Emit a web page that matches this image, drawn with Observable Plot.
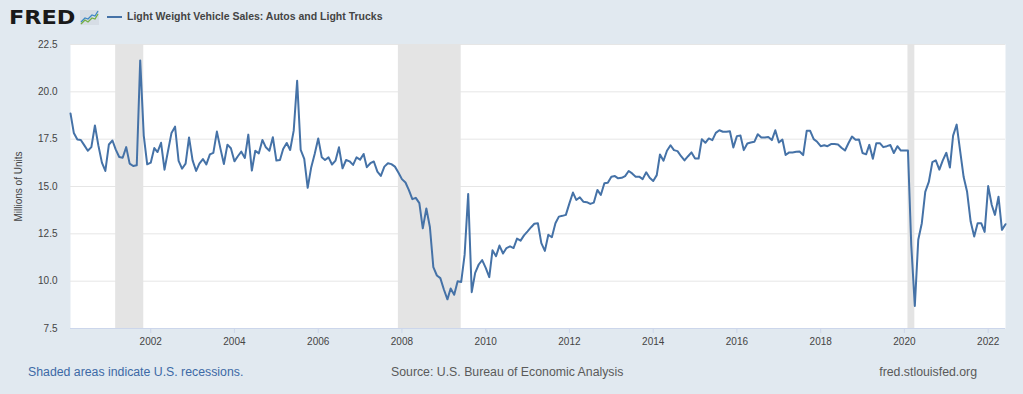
<!DOCTYPE html>
<html><head><meta charset="utf-8">
<script src="https://cdn.jsdelivr.net/npm/d3@7"></script>
<script src="https://cdn.jsdelivr.net/npm/@observablehq/plot@0.6"></script>
<style>
body{margin:0;background:#e1e9f0;font-family:"Liberation Sans",Arial,sans-serif;}
#wrap{position:relative;width:1023px;height:394px;overflow:hidden;background:#e1e9f0;}
#logo{position:absolute;left:9px;top:7px;font-family:"DejaVu Sans",sans-serif;font-size:20px;line-height:20px;font-weight:bold;color:#1a1a1a;letter-spacing:0px;transform:scaleX(1.12);transform-origin:0 0;}
#icon{position:absolute;left:80px;top:10px;}
#legline{position:absolute;left:107px;top:16px;width:15px;height:2px;background:#4572a7;}
#title{position:absolute;left:127px;top:11px;font-size:10.5px;line-height:11px;font-weight:bold;color:#444;white-space:nowrap;}
#chart{position:absolute;left:0;top:30px;}
.foot{position:absolute;top:366px;font-size:12.3px;line-height:12px;white-space:nowrap;}
#f1{left:28px;color:#3d6aa6;}
#f2{left:391px;color:#5a5a5a;}
#f3{right:46px;color:#5a5a5a;}
</style></head>
<body><div id="wrap">
<span id="logo">FRED</span>
<svg id="icon" width="19" height="15" viewBox="0 0 19 15"><rect width="19" height="15" fill="#d6dde5"/><polyline points="1,12 5,8 8,9 12,5 15,6 18,1" fill="none" stroke="#3f88c5" stroke-width="1.3"/><polyline points="1,14 5,10 8,12 12,8 15,9 18,4" fill="none" stroke="#74b043" stroke-width="1.3"/></svg>
<span id="legline"></span>
<span id="title">Light Weight Vehicle Sales: Autos and Light Trucks</span>
<div id="chart"></div>
<span class="foot" id="f1">Shaded areas indicate U.S. recessions.</span>
<span class="foot" id="f2">Source: U.S. Bureau of Economic Analysis</span>
<span class="foot" id="f3">fred.stlouisfed.org</span>
</div>
<script>
// Monthly values, millions of units (SAAR), starting Feb 2000
const sales2000to2005 = [
  18.86, 17.83, 17.48, 17.46, 17.17, 16.89, 17.08, 18.22, 17.17, 16.26, 15.82,
  17.22, 17.43, 16.96, 16.56, 16.52, 17.08, 16.21, 16.08, 16.12, 21.66, 17.69, 16.17,
  16.26, 17.03, 16.82, 17.31, 15.89, 16.89, 17.83, 18.16, 16.35, 15.94, 16.21, 17.59,
  16.38, 15.82, 16.21, 16.45, 16.17, 16.70, 16.78, 17.90, 17.00, 16.19, 17.21, 17.02,
  16.33, 16.61, 16.84, 16.51, 17.74, 15.84, 16.89, 16.75, 17.46, 17.07, 16.89, 17.60,
  16.37, 16.40, 16.98, 17.30, 16.93, 17.95, 20.58, 16.93, 16.46, 14.93, 16.02, 16.72
];
const sales2006to2011 = [
  17.54, 16.54, 16.40, 16.54, 16.16, 16.37, 17.07, 15.96, 16.40, 16.33, 16.14, 16.54,
  16.42, 16.72, 16.02, 16.23, 16.32, 15.79, 15.56, 16.05, 16.23, 16.18, 16.05, 15.74,
  15.39, 15.21, 14.82, 14.33, 14.40, 14.12, 12.79, 13.84, 12.86, 10.74, 10.30, 10.16,
  9.56, 9.04, 9.61, 9.28, 10.00, 9.96, 11.40, 14.61, 9.42, 10.44, 10.88, 11.11,
  10.70, 10.21, 11.63, 11.32, 11.88, 11.46, 11.75, 11.84, 11.75, 12.25, 12.14, 12.42,
  12.63, 12.85, 13.03, 13.06, 12.01, 11.60, 12.45, 12.32, 13.06, 13.41, 13.45, 13.50
];
const sales2012to2017 = [
  14.11, 14.68, 14.29, 14.43, 14.20, 14.17, 14.08, 14.15, 14.82, 14.55, 15.17, 15.20,
  15.52, 15.55, 15.43, 15.46, 15.55, 15.82, 15.69, 15.52, 15.52, 15.39, 15.75, 15.46,
  15.29, 15.60, 16.69, 16.36, 16.89, 17.18, 16.92, 16.87, 16.60, 16.38, 16.60, 16.80,
  16.48, 16.48, 17.50, 17.31, 17.54, 17.45, 17.83, 17.97, 17.89, 17.89, 17.92, 17.06,
  17.66, 17.69, 16.92, 17.27, 17.32, 17.36, 17.76, 17.59, 17.59, 17.62, 17.45, 17.97,
  17.32, 17.48, 16.66, 16.80, 16.80, 16.83, 16.85, 16.66, 17.94, 17.94, 17.50, 17.36
];
const sales2018to2022 = [
  17.13, 17.18, 17.13, 17.24, 17.24, 17.22, 17.05, 16.90, 17.30, 17.64, 17.47, 17.48,
  16.77, 16.70, 17.20, 16.47, 17.29, 17.29, 17.08, 17.13, 17.19, 16.77, 17.13, 16.90,
  16.90, 16.90, 11.90, 8.69, 12.19, 13.06, 14.72, 15.24, 16.29, 16.38, 15.89, 16.38,
  16.78, 16.00, 17.69, 18.27, 16.90, 15.50, 14.72, 13.15, 12.36, 13.06, 13.06, 12.60,
  15.02, 14.02, 13.50, 14.46, 12.71, 13.01
];
const recessionStarts = ["2001-03-01", "2007-12-01", "2020-02-01"];
const recessionEnds   = ["2001-11-01", "2009-06-01", "2020-04-01"];
const yTicks = [7.5, 10, 12.5, 15, 17.5, 20, 22.5];
const xTickYears = [2002, 2004, 2006, 2008, 2010, 2012, 2014, 2016, 2018, 2020, 2022];

const values = [...sales2000to2005, ...sales2006to2011, ...sales2012to2017, ...sales2018to2022];
const data = values.map((v, i) => ({date: new Date(Date.UTC(2000, 1 + i, 1)), value: v}));
const recessions = recessionStarts.map((s, i) => ({start: new Date(s), end: new Date(recessionEnds[i])}));
const xTicks = xTickYears.map(y => new Date(Date.UTC(y, 0, 1)));

const chart = Plot.plot({
  width: 1023, height: 330,
  marginLeft: 70, marginRight: 18, marginTop: 14, marginBottom: 32,
  style: {background: "transparent", fontFamily: "Liberation Sans, Arial, sans-serif", fontSize: "10px", color: "#444", overflow: "visible"},
  x: {type: "utc", domain: [new Date(Date.UTC(2000, 1, 1)), new Date(Date.UTC(2022, 5, 1))]},
  y: {domain: [7.5, 22.5]},
  marks: [
    Plot.frame({fill: "white", stroke: "none"}),
    Plot.gridY(yTicks, {stroke: "#e6e6e6", strokeOpacity: 1}),
    Plot.rect(recessions, {x1: "start", x2: "end", fill: "#e4e4e4"}),
    Plot.ruleY([7.5], {stroke: "#ccd6eb"}),
    Plot.axisY(yTicks, {tickSize: 0, tickPadding: 13, tickFormat: d3.format(".1f"), label: "Millions of Units", labelAnchor: "center", labelOffset: 56, labelArrow: "none", fill: "#444"}),
    Plot.axisX(xTicks, {tickSize: 5, tickPadding: 4, stroke: "#ccd6eb", tickFormat: d3.utcFormat("%Y"), label: null, fill: "#444"}),
    Plot.line(data, {x: "date", y: "value", stroke: "#4572a7", strokeWidth: 2})
  ]
});
document.getElementById("chart").appendChild(chart);
</script>
</body></html>
